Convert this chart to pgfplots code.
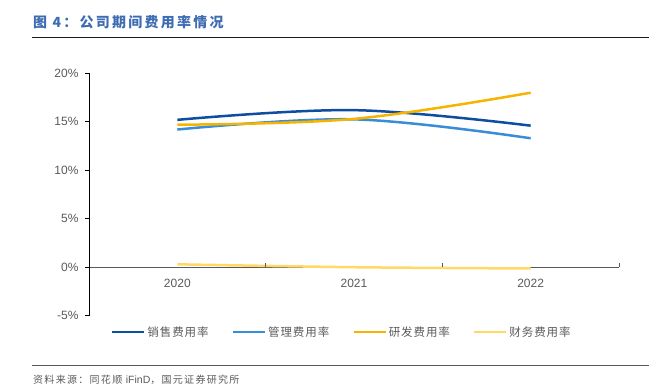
\documentclass[border=0pt]{standalone}
\usepackage{fontspec}
\setmainfont{Liberation Sans}
\newfontfamily\cjk{Noto Sans CJK SC}
\newfontfamily\cjkt[LetterSpace=16]{Noto Sans CJK SC}
\newfontfamily\cjks[LetterSpace=13]{Noto Sans CJK SC}
\newfontfamily\cjkl[LetterSpace=8]{Noto Sans CJK SC}
\usepackage{pgfplots}
\pgfplotsset{compat=1.18}
\definecolor{titleblue}{RGB}{62,108,178}
\definecolor{labelgray}{RGB}{89,89,89}
\definecolor{cA}{RGB}{14,78,160}
\definecolor{cB}{RGB}{58,140,214}
\definecolor{cC}{RGB}{246,180,0}
\definecolor{cD}{RGB}{255,216,102}
\pgfplotstableread{
x sales admin rd fin
0 15.2 14.2 14.7 0.30
1 16.2 15.25 15.3 0.00
2 14.6 13.3 18.0 -0.13
}\datatable
\begin{document}
\begin{tikzpicture}[x=1pt,y=1pt]
\path (0,0) rectangle (662,389);
\node[anchor=west, inner sep=0pt, text=titleblue, font=\cjkt\bfseries\fontsize{14}{16}\selectfont] at (33,367) {图 4：公司期间费用率情况};
\draw[line width=1pt, black!90] (32,351.3) -- (649,351.3);
\draw[line width=1.5pt, black!65] (32,23.3) -- (649,23.3);
\node[anchor=west, inner sep=0pt, text=labelgray, font=\cjks\fontsize{10}{12}\selectfont] at (33,9) {资料来源：同花顺 {\rmfamily\fontsize{10.5}{12}\selectfont iFinD}，国元证券研究所};
\begin{axis}[
  at={(89pt,73.3pt)}, anchor=south west,
  scale only axis, width=530pt, height=242.4pt,
  xmin=-0.5, xmax=2.5, ymin=-5, ymax=20,
  axis x line*=middle, axis y line*=left,
  xtick={0,1,2}, xticklabels={2020,2021,2022},
  ytick={-5,0,5,10,15,20}, yticklabels={-5\%,0\%,5\%,10\%,15\%,20\%},
  major x tick style={draw=none},
  major y tick style={black, line width=0.8pt},
  y axis line style={black, line width=0.8pt},
  x axis line style={labelgray, line width=1.3pt},
  tick align=outside, major tick length=4pt,
  tick label style={font=\fontsize{12}{14}\selectfont, text=labelgray},
  xticklabel style={yshift=-4pt},
  yticklabel style={xshift=-3pt},
  clip=false,
  legend style={at={(0.477,-0.067)}, anchor=center, draw=none, fill=none,
    font=\cjkl\fontsize{11.5}{14}\selectfont, text=labelgray,
    /tikz/every even column/.append style={column sep=21pt}},
  legend columns=4,
  legend cell align=left,
  legend image code/.code={\draw[#1] (0pt,0pt) -- (32pt,0pt);},
]
\addplot[cA, line width=2.5pt, smooth, tension=0.6] table[x=x, y=sales] {\datatable};
\addlegendentry{销售费用率}
\addplot[cB, line width=2.5pt, smooth, tension=0.6] table[x=x, y=admin] {\datatable};
\addlegendentry{管理费用率}
\addplot[cC, line width=2.5pt, smooth, tension=0.6] table[x=x, y=rd] {\datatable};
\addlegendentry{研发费用率}
\addplot[cD, line width=2.5pt, smooth, tension=0.6] table[x=x, y=fin] {\datatable};
\addlegendentry{财务费用率}
\foreach \t in {0.5,1.5,2.5} {
  \edef\tmp{\noexpand\draw[labelgray, line width=1pt] (axis cs:\t,0) -- ++(0pt,4.5pt);}
  \tmp
}
\end{axis}
\end{tikzpicture}
\end{document}
